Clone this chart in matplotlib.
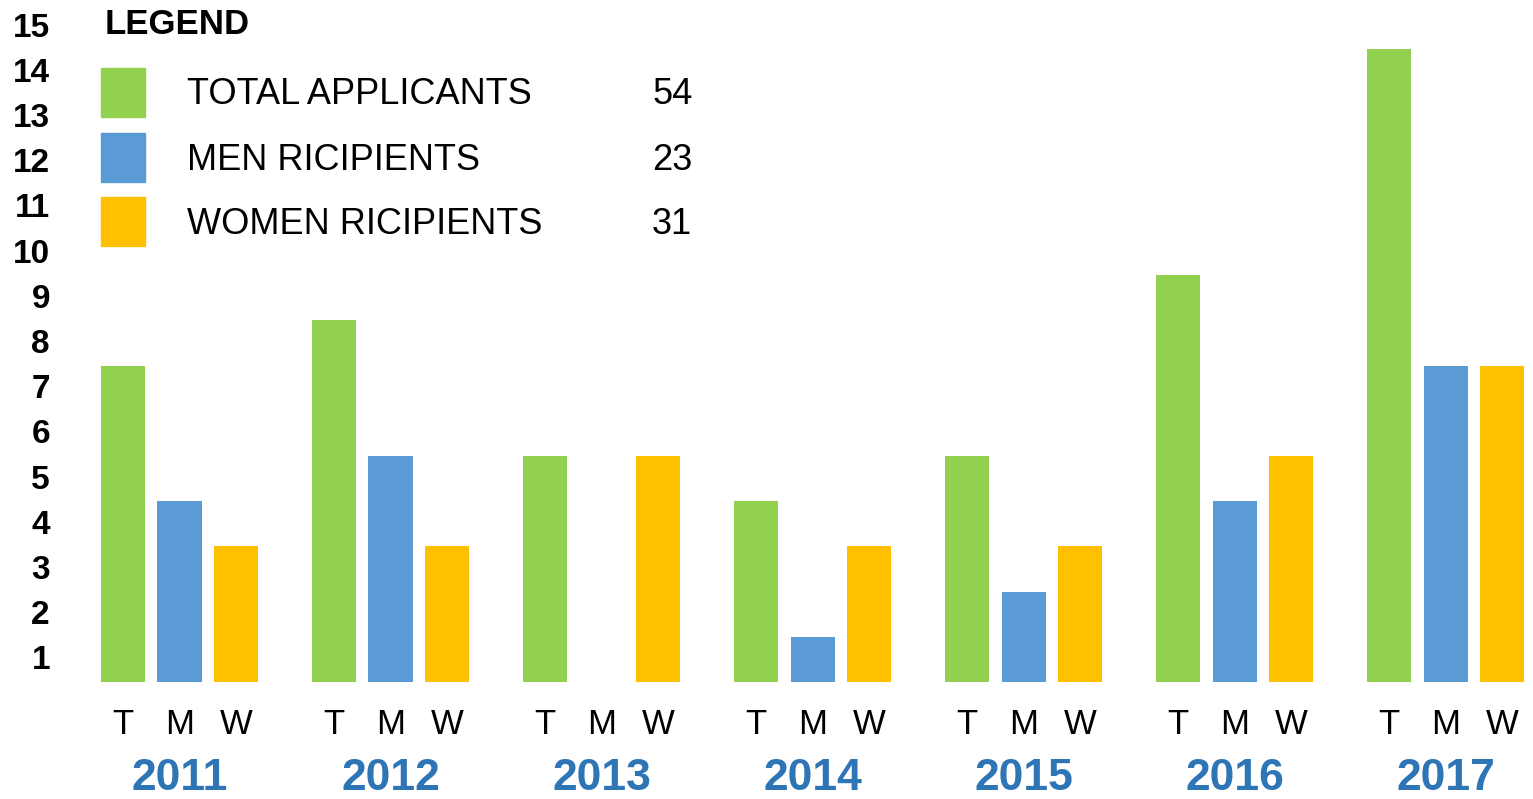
import matplotlib
matplotlib.use("Agg")
import matplotlib.pyplot as plt
from matplotlib.patches import Rectangle
from matplotlib.transforms import ScaledTranslation

plt.rcParams['font.family'] = ['Liberation Sans', 'DejaVu Sans']

# data
years = ["2011", "2012", "2013", "2014", "2015", "2016", "2017"]
total = [7, 8, 5, 4, 5, 9, 14]
men = [4, 5, 0, 1, 2, 4, 7]
women = [3, 3, 5, 3, 3, 5, 7]
bar_labels = ["T", "M", "W"]
legend_names = ["TOTAL APPLICANTS", "MEN RICIPIENTS", "WOMEN RICIPIENTS"]
legend_counts = ["54", "23", "31"]
colors = ["#92D050", "#5B9BD5", "#FFC000"]
year_color = "#2E75B6"

W, H = 1533, 799
fig = plt.figure(figsize=(W / 100, H / 100), dpi=100)
ax = fig.add_axes([0, 117 / H, 1, 682 / H])

group_step = 3.735
series = [total, men, women]
xs_all, labs_all = [], []
for j, vals in enumerate(series):
    xs = [i * group_step + j for i in range(len(years))]
    ax.bar(xs, vals, width=0.78, color=colors[j], edgecolor="none")
    xs_all += xs
    labs_all += [bar_labels[j]] * len(xs)

ax.set_xlim(-123 / 56.5, (W - 123) / 56.5)
ax.set_ylim(0, 682 / 45.2)

# y labels sit in the middle of each unit band
ax.set_yticks([k - 0.5 for k in range(1, 16)])
ax.set_yticklabels([str(k) for k in range(1, 16)], fontsize=24, fontweight="bold")
ax.tick_params(axis="y", length=0, pad=-36)
shift = ScaledTranslation(0, 2 / 100, fig.dpi_scale_trans)
for lab in ax.get_yticklabels():
    lab.set_transform(lab.get_transform() + shift)

ax.set_xticks(xs_all)
ax.set_xticklabels(labs_all, fontsize=25)
ax.tick_params(axis="x", length=0, pad=19)

for i, y in enumerate(years):
    ax.annotate(y, xy=(i * group_step + 1, 0), xycoords=("data", "axes fraction"),
                xytext=(0, -97 * 0.72), textcoords="offset points",
                ha="center", va="center", fontsize=32, fontweight="bold",
                color=year_color)

for s in ax.spines.values():
    s.set_visible(False)

# legend block drawn by hand
fig.text(105 / W, 1 - 24 / H, "LEGEND", fontsize=25, fontweight="bold",
         ha="left", va="center")
tops = [68, 133, 197]
for k in range(3):
    fig.patches.append(Rectangle((101 / W, 1 - (tops[k] + 49) / H), 44 / W, 49 / H,
                                 transform=fig.transFigure, color=colors[k]))
    yc = 1 - (tops[k] + 27) / H
    fig.text(187 / W, yc, legend_names[k], fontsize=26, ha="left", va="center")
    fig.text(652 / W, yc, legend_counts[k], fontsize=26, ha="left", va="center")

fig.savefig("out.png", dpi=100)
